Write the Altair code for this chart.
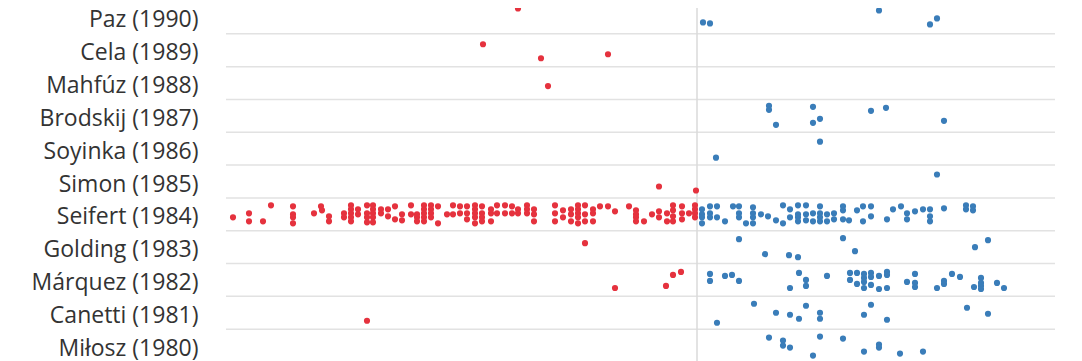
import altair as alt
import pandas as pd

labels = ["Paz (1990)", "Cela (1989)", "Mahfúz (1988)", "Brodskij (1987)",
          "Soyinka (1986)", "Simon (1985)", "Seifert (1984)", "Golding (1983)",
          "Márquez (1982)", "Canetti (1981)", "Miłosz (1980)"]

paz_x = [-17.9, 0.6, 1.3, 18.2, 23.3, 24.0]
paz_j = [-9, 5, 6, -7, 7, 1]

cela_x = [-21.4, -15.6, -8.9]
cela_j = [-6, 8, 4]

mahfuz_x = [-14.9]
mahfuz_j = [3]

brodskij_x = [7.2, 7.2, 7.9, 11.6, 11.6, 12.3, 17.4, 18.9, 24.7]
brodskij_j = [-10, -6, 9, -9, 7, 3, -5, -8, 5]

soyinka_x = [1.9, 12.3]
soyinka_j = [9, -7]

simon_x = [-3.8, -0.1, 24.0]
simon_j = [5, 9, -7]

seifert_x = [-46.4, -44.8, -44.8, -43.4, -42.6,
             -40.4, -40.4, -40.4, -40.4, -38.3, -37.6, -37.5, -36.8, -36.8,
             -35.3, -35.3, -34.6, -34.6, -34.6, -34.6, -34.6, -33.9, -33.9,
             -33.0, -33.0, -33.0, -33.0, -32.4, -32.4, -32.4, -32.4, -32.4,
             -31.6, -31.6, -30.9, -30.9, -30.2, -30.2, -29.5, -29.5,
             -28.6, -28.6, -28.0, -28.0, -28.0,
             -27.3, -27.3, -27.3, -27.3, -27.3, -26.6, -26.6, -26.6, -26.6,
             -25.9, -25.9, -25.0, -24.4, -24.4, -23.7, -23.7, -23.0, -23.0, -23.0,
             -22.2, -22.2, -22.2, -22.2, -22.2, -21.5, -21.5, -21.5, -21.5,
             -20.6, -20.6, -20.6, -20.0, -20.0, -19.2, -19.2, -18.5, -18.5,
             -17.9, -17.9, -17.0, -17.0, -17.0, -16.3, -16.3, -16.3,
             -14.2, -14.2, -14.2, -13.4, -13.4, -12.6, -12.6, -12.6,
             -11.9, -11.9, -11.9, -11.9, -11.9, -11.2, -11.2, -11.2,
             -10.4, -10.4, -10.4, -9.7, -8.9, -8.2, -6.8,
             -6.1, -6.1, -6.1, -6.1, -5.3, -4.5, -3.8, -3.8, -3.0, -3.0,
             -2.4, -2.4, -2.4, -2.4, -1.5, -1.5, -1.5, -0.8,
             -0.2, -0.2, -0.2, -0.2,
             0.5, 0.5, 0.5, 0.5, 1.3, 1.3, 1.3, 2.0, 2.0, 2.8, 3.6,
             4.2, 4.2, 4.2, 4.9, 5.6, 5.6, 5.6, 5.6, 6.4, 7.1, 7.9, 8.6, 8.6,
             9.3, 9.3, 10.1, 10.1, 10.1, 10.1, 10.9, 10.9, 10.9, 11.6, 11.6,
             12.3, 12.3, 12.3, 12.3, 13.0, 13.0, 13.7, 13.7, 14.6, 14.6, 14.6,
             15.2, 16.0, 16.6, 16.6, 17.4, 17.4, 19.0, 19.6, 20.4, 21.0, 21.0,
             21.8, 22.6, 23.3, 23.3, 23.3, 24.7, 26.9, 26.9, 27.6, 27.6]
seifert_j = [3, -1, 7, 7, -9,
             -8, 0, 3, 9, -1, -8, -4, 2, 7,
             -1, 3, -9, -5, -1, 3, 7, -5, 0,
             -9, -1, 3, 8, -9, -5, -1, 3, 8,
             -5, -1, -5, 2, -8, 5, 0, 6,
             -9, 0, 0, 3, 7,
             -9, -5, -1, 3, 7, -9, -5, -1, 3,
             -8, 9, 0, -9, 0, -8, -1, -8, -1, 5,
             -9, -5, -1, 3, 9, -8, -1, 3, 7,
             -5, -1, 7, -9, -1, -9, -1, -8, -1,
             -5, -1, -9, -5, -1, -5, 0, 7,
             -9, -1, 7, -4, 3, -5, 0, 7,
             -9, -5, -1, 3, 9, -9, 0, 7,
             -5, -1, 7, -8, -8, -3, -8,
             -4, 0, 3, 7, 7, 0, -3, 3, -1, 7,
             -9, -4, 2, 7, -8, -1, 5, -1,
             -9, -5, -1, 3,
             -5, 0, 3, 9, -8, -1, 3, -8, 3, 7, -8,
             -8, -1, 3, 9, -7, -1, 3, 9, 0, 2, 6, -9, 9,
             -5, 3, -9, 0, 3, 7, -9, 0, 6, -1, 7,
             -8, -1, 3, 7, 0, 7, -1, 5, -8, -4, 5,
             6, -4, -8, 7, -8, 2, 5, -5, -8, -1, 5,
             -3, -5, -5, 2, 7, -6, -9, -5, -8, -4]

golding_x = [-11.2, 4.2, 6.8, 9.2, 10.1, 14.6, 15.8, 27.8, 29.1]
golding_j = [-4, -8, 7, 8, 10, -9, 4, 0, -7]

marquez_x = [-8.2, -3.1, -2.4, -1.6,
             1.3, 1.3, 2.8, 3.5, 4.2, 9.3, 10.2, 10.9, 10.9, 13.0,
             15.3, 15.3, 16.0, 16.0, 16.7, 16.7, 16.7, 16.7,
             17.4, 17.4, 17.4, 18.2, 18.2, 19.0, 19.0, 19.0,
             21.0, 21.8, 21.8, 21.8, 24.0, 24.7, 24.7, 25.5, 26.3, 27.7,
             28.4, 28.4, 28.4, 28.4, 30.0, 30.7]
marquez_j = [8, 6, -5, -8,
             -6, 1, -4, -5, 1, 8, -7, 0, 6, -4,
             -7, 0, -7, 4, -6, -2, 2, 8,
             -7, -3, 5, -4, 9, -8, -5, 8,
             2, -6, 3, 7, 8, 1, 4, -6, -3, 7,
             -2, 3, 6, 9, 3, 8]

canetti_x = [-33.0, 2.0, 5.7, 7.9, 9.3, 10.2, 10.9, 12.3, 12.3, 16.7, 17.4, 19.0, 27.0, 29.1]
canetti_j = [8, 10, -9, 0, 2, 6, -7, 0, 6, 2, -8, 7, -5, 1]

milosz_x = [7.2, 8.6, 8.6, 9.3, 11.6, 12.3, 14.6, 16.7, 18.2, 18.2, 20.3, 22.6]
milosz_j = [-8, -5, 0, 2, 10, -9, -7, 6, -1, 2, 8, 6]

all_x = [paz_x, cela_x, mahfuz_x, brodskij_x, soyinka_x, simon_x, seifert_x,
         golding_x, marquez_x, canetti_x, milosz_x]
all_j = [paz_j, cela_j, mahfuz_j, brodskij_j, soyinka_j, simon_j, seifert_j,
         golding_j, marquez_j, canetti_j, milosz_j]

records = []
for lab, xs, js in zip(labels, all_x, all_j):
    for v, j in zip(xs, js):
        records.append({"laureate": lab, "value": v, "jitter": j,
                        "side": "before" if v < 0 else "after"})
df = pd.DataFrame(records)

RED = "#e5323e"
BLUE = "#3a7db9"

xscale = alt.Scale(domain=[-47.1, 35.8], nice=False, zero=False)
yscale = alt.Scale(type="band", domain=labels, paddingInner=0, paddingOuter=0)
yaxis = alt.Axis(title=None, ticks=False, domain=False, grid=False,
                 labelPadding=28, labelFontSize=23, labelFont="Open Sans",
                 labelOffset=3, labelColor="#333333", labelLimit=300)

grid = alt.Chart(pd.DataFrame({"laureate": labels})).mark_rule(
    color="#e2e2e2", strokeWidth=1.5
).encode(
    y=alt.Y("laureate:N", bandPosition=0, scale=yscale, axis=yaxis, sort=labels)
)

center = alt.Chart(pd.DataFrame({"value": [0]})).mark_rule(
    color="#dadada", strokeWidth=1.5
).encode(
    x=alt.X("value:Q", scale=xscale, axis=None)
)

points = alt.Chart(df).mark_circle(size=38, opacity=1).encode(
    x=alt.X("value:Q", scale=xscale, axis=None),
    y=alt.Y("laureate:N", scale=yscale, axis=yaxis, sort=labels),
    yOffset=alt.YOffset("jitter:Q", scale=alt.Scale(domain=[-16.4, 16.4])),
    color=alt.Color("side:N", scale=alt.Scale(domain=["before", "after"], range=[RED, BLUE]),
                    legend=None),
)

chart = alt.layer(grid, center, points).properties(
    width=829, height=361,
    autosize=alt.AutoSizeParams(type="none"),
    padding={"left": 218, "top": -7, "right": 10, "bottom": 8},
).configure_view(stroke=None)

chart.save("out.html", embed_options={"renderer": "svg", "actions": False})
